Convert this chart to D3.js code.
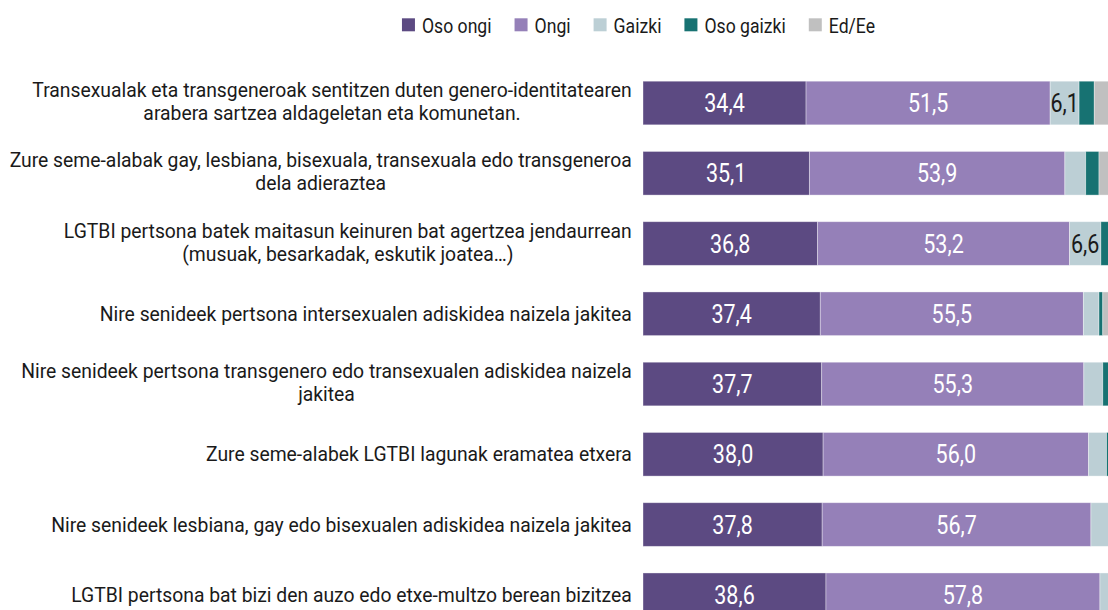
<!DOCTYPE html>
<html>
<head>
<meta charset="utf-8">
<script src="https://cdn.jsdelivr.net/npm/d3@7"></script>
<style>
  html, body { margin: 0; padding: 0; background: #fff; overflow: hidden; }
  svg { display: block; font-family: Roboto, "Noto Sans", sans-serif; }
</style>
</head>
<body>
<svg id="chart" width="1108" height="610"></svg>
<script>
// Survey items (each line of a label is a separate entry)
const categories = [
  ["Transexualak eta transgeneroak sentitzen duten genero-identitatearen", "arabera sartzea aldageletan eta komunetan."],
  ["Zure seme-alabak gay, lesbiana, bisexuala, transexuala edo transgeneroa", "dela adieraztea"],
  ["LGTBI pertsona batek maitasun keinuren bat agertzea jendaurrean", "(musuak, besarkadak, eskutik joatea…)"],
  ["Nire senideek pertsona intersexualen adiskidea naizela jakitea"],
  ["Nire senideek pertsona transgenero edo transexualen adiskidea naizela", "jakitea"],
  ["Zure seme-alabek LGTBI lagunak eramatea etxera"],
  ["Nire senideek lesbiana, gay edo bisexualen adiskidea naizela jakitea"],
  ["LGTBI pertsona bat bizi den auzo edo etxe-multzo berean bizitzea"]
];

// Percentages per answer
const osoOngi   = [34.4, 35.1, 36.8, 37.4, 37.7, 38.0, 37.8, 38.6];
const ongi      = [51.5, 53.9, 53.2, 55.5, 55.3, 56.0, 56.7, 57.8];
const gaizki    = [6.1, 4.4, 6.6, 3.3, 4.0, 3.8, 4.0, 2.5];
const osoGaizki = [3.2, 2.8, 2.0, 0.8, 1.5, 1.0, 0.5, 0.5];
const edEe      = [4.8, 3.8, 1.4, 3.0, 1.5, 1.2, 1.0, 0.6];

const seriesNames = ["Oso ongi", "Ongi", "Gaizki", "Oso gaizki", "Ed/Ee"];
const seriesColors = ["#5c4a82", "#9580b8", "#bccfd5", "#177272", "#c0c0c0"];
const seriesValues = [osoOngi, ongi, gaizki, osoGaizki, edEe];
const labelColors = ["#ffffff", "#ffffff", "#1a1a1a", "#ffffff", "#1a1a1a"];
const labelMin = 5;

// Horizontal squeeze to give the text a condensed look
const squeeze = 0.86;
const catSqueeze = 0.967;

const svg = d3.select("#chart");

// Row table for the stack layout
const rows = categories.map((c, i) => {
  const r = { idx: i };
  seriesNames.forEach((s, k) => { r[s] = seriesValues[k][i]; });
  return r;
});
const stacked = d3.stack().keys(seriesNames)(rows);

const x = d3.scaleLinear().domain([0, 100]).range([643, 1117]);
const y = d3.scaleBand()
  .domain(d3.range(categories.length))
  .range([81.2, 616.6])
  .paddingInner(0.379)
  .paddingOuter(0);
const color = d3.scaleOrdinal().domain(seriesNames).range(seriesColors);

// Bars
const layers = svg.append("g").selectAll("g")
  .data(stacked)
  .join("g")
  .attr("fill", d => color(d.key));

layers.selectAll("rect")
  .data(d => d)
  .join("rect")
  .attr("x", d => x(d[0]))
  .attr("y", (d, i) => y(i))
  .attr("width", d => x(d[1]) - x(d[0]))
  .attr("height", y.bandwidth())
  .attr("stroke", "#ffffff")
  .attr("stroke-opacity", 0.45)
  .attr("stroke-width", 0.8);

// Value labels inside segments
stacked.forEach((layer, k) => {
  svg.append("g").selectAll("text")
    .data(layer.map((d, i) => ({ d, i })).filter(o => o.d[1] - o.d[0] >= labelMin))
    .join("text")
    .attr("transform", o => `translate(${(x(o.d[0]) + x(o.d[1])) / 2},${y(o.i) + y.bandwidth() / 2 + 9}) scale(${squeeze},1)`)
    .attr("text-anchor", "middle")
    .attr("font-size", 25)
    .attr("fill", labelColors[k])
    .text(o => d3.format(".1f")(o.d[1] - o.d[0]).replace(".", ","));
});

// Category labels: block right-aligned, lines centred within the block
const labelRight = 632;
const lineGap = 23;
const catG = svg.append("g").attr("font-size", 20).attr("fill", "#1a1a1a");
categories.forEach((lines, i) => {
  const cy = y(i) + y.bandwidth() / 2;
  const n = lines.length;
  const g = catG.append("g");
  const t = g.append("text").attr("text-anchor", "middle");
  const spans = lines.map((ln, j) => t.append("tspan")
    .attr("x", 0)
    .attr("y", cy + 7 - (n > 1 ? 1.5 : 0) + (j - (n - 1) / 2) * lineGap)
    .text(ln));
  const w = d3.max(spans, s => s.node().getComputedTextLength()) * catSqueeze;
  g.attr("transform", `translate(${labelRight - w / 2},0) scale(${catSqueeze},1)`);
});

// Legend
const legG = svg.append("g").attr("font-size", 20.5).attr("fill", "#1a1a1a");
const sw = 13, swGap = 7, itemGap = 23;
let cursor = 0;
seriesNames.forEach((name) => {
  const g = legG.append("g").attr("transform", `translate(${cursor},0)`);
  g.append("rect").attr("x", 0).attr("y", 18.3).attr("width", sw).attr("height", sw).attr("fill", color(name));
  const tx = g.append("text")
    .attr("transform", `translate(${sw + swGap},32.5) scale(${squeeze},1)`)
    .text(name);
  cursor += sw + swGap + tx.node().getComputedTextLength() * squeeze + itemGap;
});
const total = cursor - itemGap;
legG.attr("transform", `translate(${638.5 - total / 2},0)`);
</script>
</body>
</html>
